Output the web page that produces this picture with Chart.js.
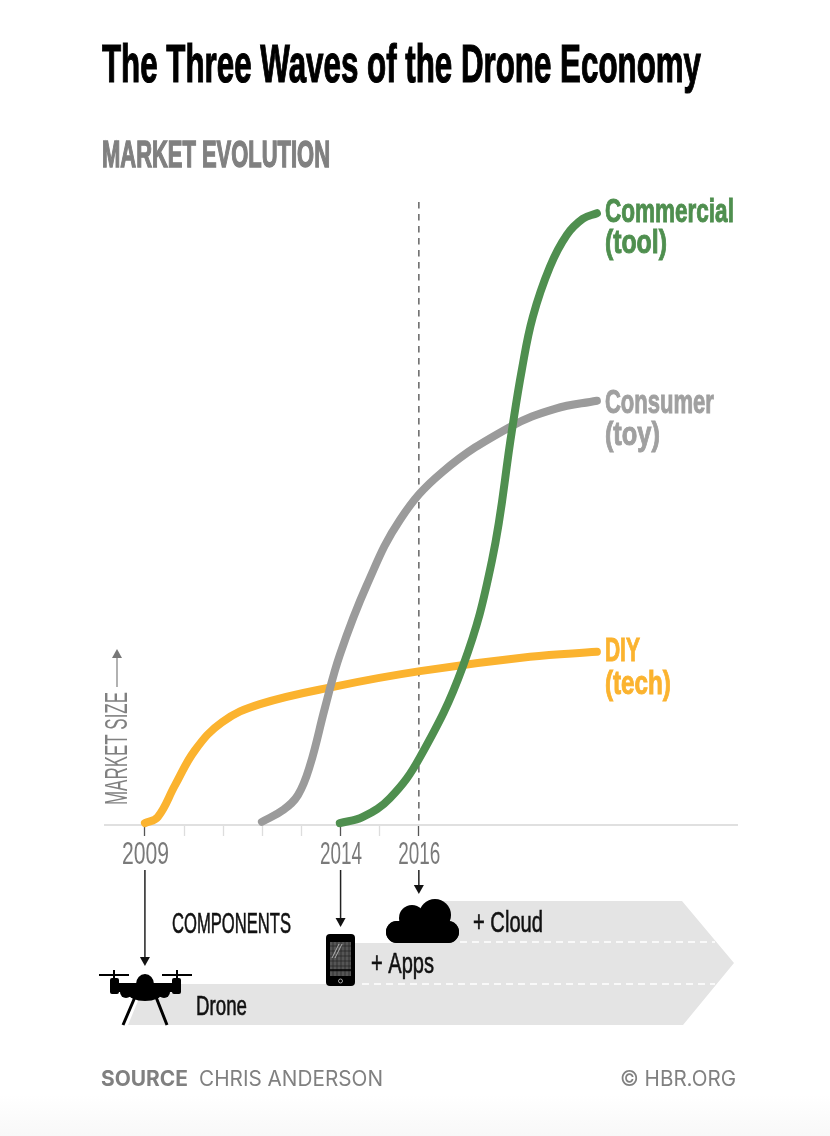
<!DOCTYPE html>
<html>
<head>
<meta charset="utf-8">
<title>The Three Waves of the Drone Economy</title>
<script src="https://cdn.jsdelivr.net/npm/chart.js@4"></script>
<style>
  html, body { margin: 0; padding: 0; }
  body { width: 830px; height: 1136px; overflow: hidden; background: linear-gradient(to bottom, #fff 0, #fff 1095px, #f8f8f8 1136px); }
  canvas { display: block; }
</style>
</head>
<body>
<canvas id="chart" width="830" height="1136"></canvas>
<script>
// values, market size is an index (0 = nothing, 100 = top of the dashed line)
const diyYears = [2009, 2009.33, 2009.77, 2010.28, 2010.97, 2011.94, 2013.91, 2016.03, 2018.84, 2020.55];
const diyValues = [0.3, 1.3, 6.4, 12, 16.5, 19.4, 22.3, 24.7, 27, 27.8];

const consumerYears = [2011.99, 2012.53, 2012.91, 2013.22, 2013.6, 2013.98, 2014.67, 2015.52, 2016.61, 2018.33, 2019.48, 2020.55];
const consumerValues = [0.5, 2.4, 4.8, 9.6, 18.8, 27.3, 38.5, 49, 56.7, 63.9, 66.8, 68.1];

const commercialYears = [2013.98, 2014.57, 2015.26, 2016.03, 2017.12, 2017.87, 2018.38, 2018.63, 2018.91, 2019.35, 2019.78, 2020.19, 2020.55];
const commercialValues = [0.3, 1.3, 4.3, 10.9, 25.4, 42.5, 63.4, 73, 81.5, 89.6, 94.7, 97.3, 98.2];

const tickYears = [2009, 2010, 2011, 2012, 2013, 2014, 2015, 2016];
const labelYears = [2009, 2014, 2016];

const GREEN = '#4f8f4f';
const GREY = '#9b9b9b';
const ORANGE = '#fbb32f';
const TEXT_GREY = '#808080';
const BAND = '#e4e4e4';
const NARROW = '"Liberation Sans Narrow", "Liberation Sans", sans-serif';
const FOOT = 'Inter, "Open Sans", sans-serif';

function points(xs, ys) {
  return xs.map((x, i) => ({ x: x, y: ys[i] }));
}

function curve(label, xs, ys, color) {
  return {
    label: label,
    data: points(xs, ys),
    borderColor: color,
    borderWidth: 8,
    borderCapStyle: 'round',
    borderJoinStyle: 'round',
    tension: 0.4,
    pointRadius: 0,
    clip: false
  };
}

// squeeze text to a known width, the original face is very condensed.
// heavy thickens the stems again since the squeeze thins them out
function fitText(ctx, text, x, y, width, font, color, heavy) {
  ctx.save();
  ctx.font = font;
  ctx.fillStyle = color;
  ctx.strokeStyle = color;
  ctx.textAlign = 'left';
  ctx.textBaseline = 'alphabetic';
  ctx.translate(x, y);
  ctx.scale(width / ctx.measureText(text).width, 1);
  ctx.fillText(text, 0, 0);
  if (heavy) {
    ctx.lineWidth = heavy;
    ctx.strokeText(text, 0, 0);
  }
  ctx.restore();
}

function downArrow(ctx, x, y1, y2) {
  ctx.strokeStyle = '#222';
  ctx.fillStyle = '#111';
  ctx.lineWidth = 1.5;
  ctx.beginPath();
  ctx.moveTo(x, y1);
  ctx.lineTo(x, y2 - 8);
  ctx.stroke();
  ctx.beginPath();
  ctx.moveTo(x - 5, y2 - 9);
  ctx.lineTo(x + 5, y2 - 9);
  ctx.lineTo(x, y2);
  ctx.closePath();
  ctx.fill();
}

function drawBand(ctx) {
  ctx.fillStyle = BAND;
  ctx.beginPath();
  ctx.moveTo(128, 1025);
  ctx.lineTo(145, 984);
  ctx.lineTo(340, 984);
  ctx.lineTo(340, 943);
  ctx.lineTo(430, 943);
  ctx.lineTo(430, 901);
  ctx.lineTo(682, 901);
  ctx.lineTo(734, 963);
  ctx.lineTo(683, 1025);
  ctx.closePath();
  ctx.fill();

  ctx.strokeStyle = '#fff';
  ctx.lineWidth = 1.5;
  ctx.setLineDash([7, 5]);
  ctx.beginPath();
  ctx.moveTo(460, 942);
  ctx.lineTo(715, 942);
  ctx.moveTo(362, 984);
  ctx.lineTo(715, 984);
  ctx.stroke();
  ctx.setLineDash([]);
}

function drawDrone(ctx) {
  ctx.fillStyle = '#000';
  ctx.strokeStyle = '#000';
  // rotors and posts
  ctx.lineWidth = 2;
  ctx.beginPath();
  ctx.moveTo(99, 975); ctx.lineTo(129, 975);
  ctx.moveTo(162, 975); ctx.lineTo(192, 975);
  ctx.moveTo(114, 970); ctx.lineTo(114, 982);
  ctx.moveTo(177, 970); ctx.lineTo(177, 982);
  ctx.stroke();
  // motors, arms, body
  ctx.beginPath();
  ctx.roundRect(110, 978, 9, 16, 2);
  ctx.roundRect(172, 978, 9, 16, 2);
  ctx.rect(112, 983, 67, 9);
  ctx.fill();
  ctx.beginPath();
  ctx.ellipse(145, 984, 9, 10, 0, Math.PI, 0);
  ctx.rect(136, 984, 18, 8);
  ctx.fill();
  [[126, 992, 6], [164, 992, 6]].forEach(c => {
    ctx.beginPath();
    ctx.arc(c[0], c[1], c[2], 0, Math.PI * 2);
    ctx.fill();
  });
  ctx.beginPath();
  ctx.ellipse(145, 993, 17, 8, 0, 0, Math.PI * 2);
  ctx.fill();
  // legs
  ctx.lineWidth = 3;
  ctx.beginPath();
  ctx.moveTo(135, 997); ctx.lineTo(123, 1025);
  ctx.moveTo(156, 997); ctx.lineTo(167, 1025);
  ctx.stroke();
}

function drawPhone(ctx) {
  ctx.fillStyle = '#000';
  ctx.beginPath();
  ctx.roundRect(326, 934, 29, 52, 4);
  ctx.fill();
  ctx.fillStyle = '#555';
  ctx.fillRect(330, 942, 21, 34);
  ctx.strokeStyle = '#222';
  ctx.lineWidth = 0.7;
  ctx.beginPath();
  for (let x = 333; x < 351; x += 4) { ctx.moveTo(x, 942); ctx.lineTo(x, 976); }
  for (let y = 946; y < 976; y += 5) { ctx.moveTo(330, y); ctx.lineTo(351, y); }
  ctx.stroke();
  ctx.strokeStyle = '#000';
  ctx.lineWidth = 1.5;
  ctx.beginPath();
  ctx.moveTo(330, 970); ctx.lineTo(351, 970);
  ctx.stroke();
  ctx.strokeStyle = '#ccc';
  ctx.lineWidth = 0.8;
  ctx.beginPath();
  ctx.moveTo(332, 958); ctx.lineTo(339, 944);
  ctx.moveTo(335, 958); ctx.lineTo(342, 944);
  ctx.stroke();
  ctx.beginPath();
  ctx.arc(340.5, 981, 2, 0, Math.PI * 2);
  ctx.stroke();
}

function drawCloud(ctx) {
  ctx.fillStyle = '#000';
  ctx.beginPath();
  ctx.roundRect(386, 921, 73, 22, 11);
  ctx.fill();
  [[412, 918, 13], [435, 915, 16], [397, 932, 11], [448, 932, 11]].forEach(c => {
    ctx.beginPath();
    ctx.arc(c[0], c[1], c[2], 0, Math.PI * 2);
    ctx.fill();
  });
}

const decorations = {
  id: 'decorations',
  afterDraw(chart) {
    const ctx = chart.ctx;
    const xs = chart.scales.x;
    const ys = chart.scales.y;
    const endX = xs.getPixelForValue(2020.55) + 8;

    // headings
    fitText(ctx, 'The Three Waves of the Drone Economy', 102, 82, 599, 'bold 54px ' + NARROW, '#000', 1.2);
    fitText(ctx, 'MARKET EVOLUTION', 102, 167, 228, 'bold 36px ' + NARROW, TEXT_GREY, 1.4);

    // year labels come from the axis, drawn here so they can be squeezed
    xs.ticks.forEach((tick, i) => {
      if (!tick.label) return;
      const w = tick.value === 2009 ? 47 : 42;
      fitText(ctx, tick.label, xs.getPixelForTick(i) - w / 2 + 0.5, 864, w, '31px ' + NARROW, '#7a7a7a');
    });

    // series names at the end of each curve
    const green = ys.getPixelForValue(commercialValues[commercialValues.length - 1]);
    const grey = ys.getPixelForValue(consumerValues[consumerValues.length - 1]);
    const orange = ys.getPixelForValue(diyValues[diyValues.length - 1]);
    const labelFont = 'bold 33px ' + NARROW;
    fitText(ctx, 'Commercial', endX, green + 9, 129, labelFont, GREEN, 1);
    fitText(ctx, '(tool)', endX, green + 40, 62, labelFont, GREEN, 1);
    fitText(ctx, 'Consumer', endX, grey + 12, 109, labelFont, '#a0a0a0', 1);
    fitText(ctx, '(toy)', endX, grey + 44, 55, labelFont, '#a0a0a0', 1);
    fitText(ctx, 'DIY', endX, orange + 9, 35, labelFont, ORANGE, 1);
    fitText(ctx, '(tech)', endX, orange + 42, 66, labelFont, ORANGE, 1);

    // y axis caption with its arrow
    ctx.save();
    ctx.translate(127, 805);
    ctx.rotate(-Math.PI / 2);
    fitText(ctx, 'MARKET SIZE', 0, 0, 113, '31px ' + NARROW, TEXT_GREY);
    ctx.restore();
    ctx.strokeStyle = '#888';
    ctx.fillStyle = '#777';
    ctx.lineWidth = 1.3;
    ctx.beginPath();
    ctx.moveTo(117, 687);
    ctx.lineTo(117, 656);
    ctx.stroke();
    ctx.beginPath();
    ctx.moveTo(112, 658);
    ctx.lineTo(122, 658);
    ctx.lineTo(117, 649);
    ctx.closePath();
    ctx.fill();

    // components band
    drawBand(ctx);
    downArrow(ctx, xs.getPixelForValue(2009), 870, 966);
    downArrow(ctx, xs.getPixelForValue(2014), 870, 927);
    downArrow(ctx, xs.getPixelForValue(2016), 870, 894);
    drawDrone(ctx);
    drawPhone(ctx);
    drawCloud(ctx);
    fitText(ctx, 'COMPONENTS', 172, 933, 119, '30px ' + NARROW, '#111', 0.6);
    fitText(ctx, 'Drone', 196, 1015, 51, '28px ' + NARROW, '#111', 0.6);
    fitText(ctx, '+ Apps', 371, 973, 63, '29px ' + NARROW, '#111', 0.6);
    fitText(ctx, '+ Cloud', 473, 932, 70, '29px ' + NARROW, '#111', 0.6);

    // footer
    fitText(ctx, 'SOURCE', 101, 1086, 87, 'bold 21px ' + FOOT, TEXT_GREY);
    fitText(ctx, 'CHRIS ANDERSON', 199, 1086, 184, '21px ' + FOOT, TEXT_GREY);
    fitText(ctx, '© HBR.ORG', 620, 1086, 116, '21px ' + FOOT, TEXT_GREY);
  }
};

new Chart(document.getElementById('chart').getContext('2d'), {
  type: 'line',
  data: {
    datasets: [
      curve('Commercial (tool)', commercialYears, commercialValues, GREEN),
      curve('Consumer (toy)', consumerYears, consumerValues, GREY),
      curve('DIY (tech)', diyYears, diyValues, ORANGE),
      {
        label: '2016',
        data: points([2016, 2016], [100, 0]),
        borderColor: '#6e6e6e',
        borderWidth: 1.6,
        borderDash: [6.5, 5.5],
        pointRadius: 0,
        clip: false
      }
    ]
  },
  options: {
    responsive: false,
    animation: false,
    layout: { padding: { left: 105, right: 93, top: 202, bottom: 0 } },
    plugins: { legend: { display: false }, tooltip: { enabled: false } },
    scales: {
      x: {
        type: 'linear',
        min: 2007.98,
        max: 2024.13,
        afterBuildTicks: scale => { scale.ticks = tickYears.map(v => ({ value: v })); },
        afterFit: scale => { scale.height = 311; },
        border: { color: '#e0e0e0', width: 2 },
        grid: {
          drawOnChartArea: false,
          tickLength: 11,
          tickWidth: 1.3,
          tickColor: c => labelYears.includes(c.tick.value) ? '#555' : '#ddd'
        },
        ticks: {
          display: false,
          autoSkip: false,
          callback: v => labelYears.includes(v) ? String(v) : ''
        }
      },
      y: { display: false, min: 0, max: 100 }
    }
  },
  plugins: [decorations]
});
</script>
</body>
</html>
